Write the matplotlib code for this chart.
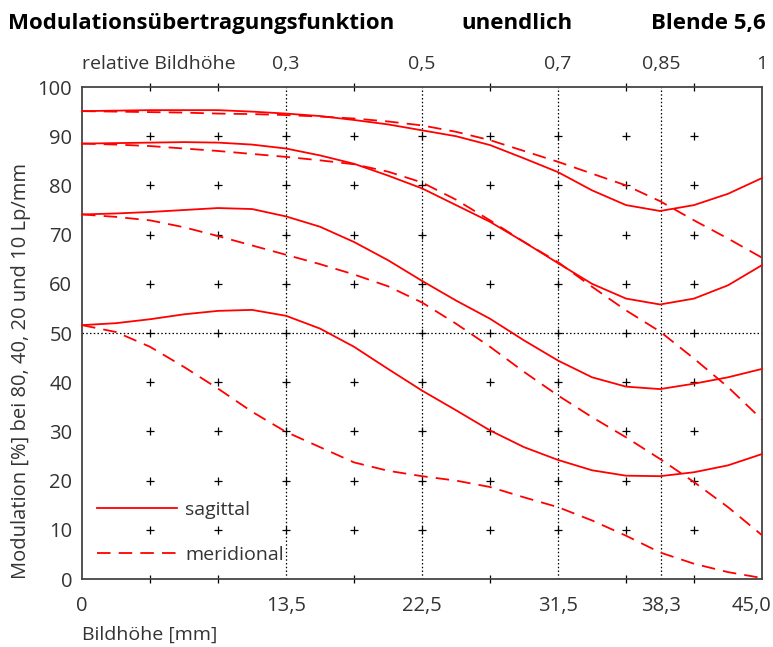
import matplotlib
matplotlib.use("Agg")
import matplotlib.pyplot as plt
from matplotlib.transforms import ScaledTranslation
import numpy as np

plt.rcParams['font.family'] = ['Open Sans', 'DejaVu Sans']

bildhoehe = [0, 2.25, 4.5, 6.75, 9, 11.25, 13.5, 15.75, 18, 20.25, 22.5,
             24.75, 27, 29.25, 31.5, 33.75, 36, 38.25, 40.5, 42.75, 45]

# sagittal (solid), 80/40/20/10 Lp/mm from top to bottom
sag_1 = [95.1, 95.2, 95.3, 95.3, 95.3, 95.0, 94.6, 94.1, 93.3, 92.4, 91.2,
         90.0, 88.2, 85.5, 82.7, 79.0, 76.0, 74.8, 76.0, 78.3, 81.5]
sag_2 = [88.5, 88.6, 88.7, 88.8, 88.7, 88.3, 87.5, 86.1, 84.4, 82.0, 79.4,
         76.0, 72.6, 68.5, 64.2, 60.0, 57.0, 55.8, 57.0, 59.7, 63.8]
sag_3 = [74.1, 74.3, 74.6, 75.0, 75.4, 75.2, 73.7, 71.6, 68.5, 64.8, 60.6,
         56.6, 52.9, 48.5, 44.4, 41.0, 39.1, 38.6, 39.7, 41.0, 42.7]
sag_4 = [51.6, 52.0, 52.8, 53.8, 54.5, 54.7, 53.5, 50.9, 47.2, 42.7, 38.3,
         34.3, 30.2, 26.8, 24.2, 22.1, 21.0, 20.9, 21.7, 23.1, 25.4]

# meridional (dashed)
mer_1 = [95.1, 95.0, 94.9, 94.8, 94.6, 94.5, 94.3, 94.0, 93.6, 93.0, 92.2,
         90.9, 89.2, 87.0, 84.8, 82.4, 80.0, 76.8, 72.9, 69.2, 65.3]
mer_2 = [88.5, 88.3, 88.0, 87.5, 87.0, 86.4, 85.8, 85.1, 84.3, 82.8, 80.6,
         77.1, 72.9, 68.5, 64.4, 59.4, 54.6, 50.3, 44.8, 39.0, 32.4]
mer_3 = [74.1, 73.6, 72.9, 71.5, 69.7, 67.8, 65.9, 64.0, 61.9, 59.5, 56.2,
         51.9, 47.2, 42.1, 37.3, 32.9, 28.8, 24.4, 19.7, 14.6, 8.9]
mer_4 = [51.6, 50.2, 47.2, 43.1, 38.7, 34.0, 29.9, 26.8, 23.7, 22.0, 20.9,
         20.0, 18.7, 16.6, 14.6, 11.9, 8.8, 5.4, 3.1, 1.4, 0.2]

bottom_ticks = [0, 13.5, 22.5, 31.5, 38.3, 45]
bottom_labels = ['0', '13,5', '22,5', '31,5', '38,3', '45,0']
top_ticks = [13.5, 22.5, 31.5, 38.3, 45]
top_labels = ['0,3', '0,5', '0,7', '0,85', '1']

red = '#ff0000'
dark = '#333333'
dash = (0, (7.5, 4.5))

fig = plt.figure(figsize=(7.73, 6.47), dpi=100)
ax = fig.add_axes([0.1061, 0.1051, 0.8797, 0.7604])

# grid crosses
gx, gy = np.meshgrid(np.arange(4.5, 41, 4.5), np.arange(10, 91, 10))
ax.plot(gx.ravel(), gy.ravel(), '+', color='black', ms=5.5, mew=0.9, zorder=1)

# dotted reference lines
for xv in [13.5, 22.5, 31.5, 38.3]:
    ax.axvline(xv, color='black', ls=(0, (1.2, 1.8)), lw=0.9, zorder=1)
ax.axhline(50, color='black', ls=(0, (1.2, 1.8)), lw=0.9, zorder=1)

for s in [sag_1, sag_2, sag_3, sag_4]:
    ax.plot(bildhoehe, s, color=red, lw=1.3, clip_on=False, zorder=3)
for m in [mer_1, mer_2, mer_3, mer_4]:
    ax.plot(bildhoehe, m, color=red, lw=1.3, ls=dash, clip_on=False, zorder=3)

ax.set_xlim(0, 45)
ax.set_ylim(0, 100)

for sp in ax.spines.values():
    sp.set_color('#444444')
    sp.set_linewidth(1.3)

ax.set_xticks(bottom_ticks)
ax.set_xticklabels(bottom_labels)
ax.set_xticks(np.arange(4.5, 45.1, 4.5), minor=True)
ax.set_yticks(np.arange(0, 101, 10))
ax.set_yticks(np.arange(0, 101, 10), minor=True)
ax.tick_params(axis='x', which='major', length=0, pad=12, labelsize=14.5, labelcolor=dark)
ax.tick_params(axis='y', which='major', length=0, pad=7, labelsize=14.5, labelcolor=dark)
ax.tick_params(which='minor', direction='inout', length=5.5, width=0.9, color='black',
               top=True, right=True, left=True, bottom=True)

# last bottom label sits a bit left of the axis end
lab = ax.get_xticklabels()[-1]
lab.set_transform(lab.get_transform() + ScaledTranslation(-0.11, 0, fig.dpi_scale_trans))

ax.set_xlabel('Bildhöhe [mm]', fontsize=14, color=dark, loc='left', labelpad=7)
ax.set_ylabel('Modulation [%] bei 80, 40, 20 und 10 Lp/mm', fontsize=14.5, color=dark,
              loc='bottom', labelpad=5)

# top scale: relative Bildhoehe
for xv, t in zip(top_ticks, top_labels):
    ax.text(xv, 102.8, t, ha='center', va='bottom', fontsize=14, color=dark, clip_on=False)
ax.text(0, 102.8, 'relative Bildhöhe', ha='left', va='bottom', fontsize=14, color=dark)

# header
fig.text(0.010, 0.963, 'Modulationsübertragungsfunktion', ha='left', va='center',
         fontsize=16, fontweight='bold', color='black')
fig.text(0.669, 0.963, 'unendlich', ha='center', va='center',
         fontsize=16, fontweight='bold', color='black')
fig.text(0.990, 0.963, 'Blende 5,6', ha='right', va='center',
         fontsize=16, fontweight='bold', color='black')

# legend
ax.plot([], [], color=red, lw=1.3, label='sagittal')
ax.plot([], [], color=red, lw=1.3, ls=dash, label='meridional')
leg = ax.legend(loc='lower left', frameon=False, fontsize=14, handlelength=4.1,
                handletextpad=0.45, labelspacing=1.4, borderpad=0, borderaxespad=0,
                bbox_to_anchor=(0.022, 0.03))
for t in leg.get_texts():
    t.set_color(dark)

fig.savefig('out.png', dpi=100)
